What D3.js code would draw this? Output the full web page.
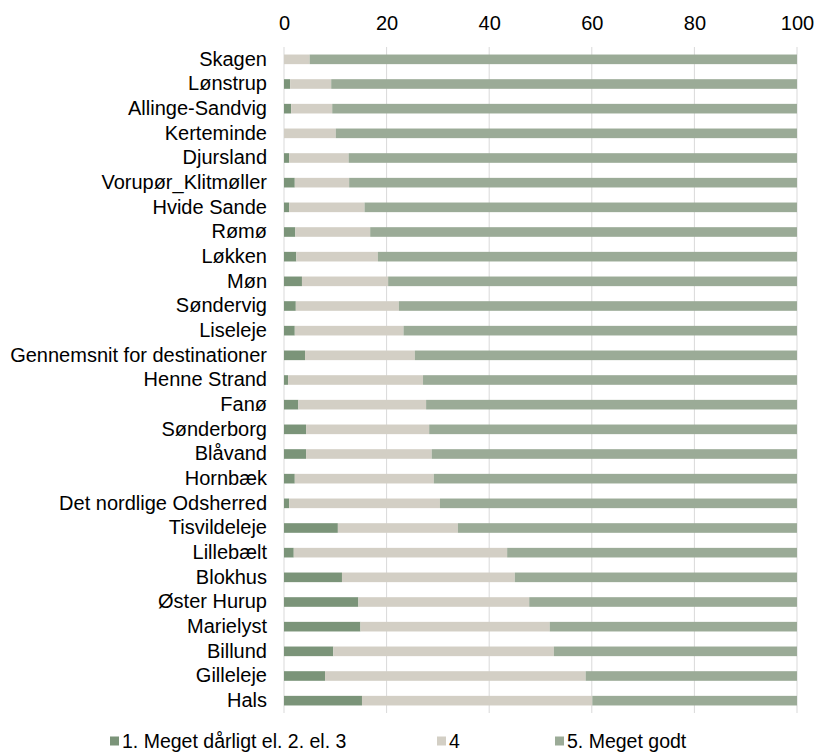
<!DOCTYPE html>
<html>
<head>
<meta charset="utf-8">
<script src="https://cdn.jsdelivr.net/npm/d3@7"></script>
<style>
  body { margin: 0; background: #fff; }
  svg text { font-family: "Liberation Sans", Arial, sans-serif; fill: #000; }
</style>
</head>
<body>
<svg id="chart" width="816" height="753"></svg>
<script>
// Destinations, top to bottom
const categories = [
  "Skagen", "Lønstrup", "Allinge-Sandvig", "Kerteminde", "Djursland",
  "Vorupør_Klitmøller", "Hvide Sande", "Rømø", "Løkken", "Møn",
  "Søndervig", "Liseleje", "Gennemsnit for destinationer", "Henne Strand", "Fanø",
  "Sønderborg", "Blåvand", "Hornbæk", "Det nordlige Odsherred", "Tisvildeleje",
  "Lillebælt", "Blokhus", "Øster Hurup", "Marielyst", "Billund",
  "Gilleleje", "Hals"
];

// Share of answers (%)
const bad = [
  0, 1.2, 1.4, 0, 1.0,
  2.1, 1.0, 2.2, 2.4, 3.5,
  2.3, 2.1, 4.1, 0.8, 2.8,
  4.3, 4.3, 2.1, 1.0, 10.5,
  1.9, 11.3, 14.5, 14.9, 9.6,
  8.0, 15.2
];
const four = [
  5.0, 8.0, 8.0, 10.1, 11.6,
  10.6, 14.7, 14.6, 15.9, 16.8,
  20.1, 21.2, 21.4, 26.3, 24.9,
  24.0, 24.5, 27.1, 29.4, 23.4,
  41.6, 33.7, 33.3, 36.9, 43.0,
  50.8, 44.9
];
const good = categories.map((c, i) => 100 - bad[i] - four[i]);

const seriesNames = ["1. Meget dårligt el. 2. el. 3", "4", "5. Meget godt"];
const seriesColors = ["#7b9479", "#d3cfc5", "#9bab97"];
const xTicks = [0, 20, 40, 60, 80, 100];

const rows = categories.map((c, i) => ({ name: c, s0: bad[i], s1: four[i], s2: good[i] }));

const fontSize = "20px";

const svg = d3.select("#chart");
const margin = { top: 47, left: 284, right: 19, bottom: 40 };
const width = 816 - margin.left - margin.right;
const height = 713 - margin.top;

const x = d3.scaleLinear().domain([0, 100]).range([0, width]);
const y = d3.scaleBand().domain(categories).range([0, height]).paddingInner(0.61).paddingOuter(0.305);

const g = svg.append("g").attr("transform", `translate(${margin.left},${margin.top})`);

// Gridlines
g.append("g")
  .selectAll("line")
  .data(xTicks)
  .join("line")
  .attr("x1", d => x(d)).attr("x2", d => x(d))
  .attr("y1", 0).attr("y2", height)
  .attr("stroke", "#d9d9d9")
  .attr("stroke-width", 1);

// Top axis labels
const xAxis = d3.axisTop(x).tickValues(xTicks).tickSize(0).tickPadding(17);
g.append("g")
  .call(xAxis)
  .call(a => a.select(".domain").remove())
  .selectAll("text")
  .style("font-size", fontSize)
  .attr("font-family", null);

// Stacked bars
const stack = d3.stack().keys(["s0", "s1", "s2"]);
const layers = stack(rows);

g.selectAll("g.layer")
  .data(layers)
  .join("g")
  .attr("class", "layer")
  .attr("fill", (d, i) => seriesColors[i])
  .selectAll("rect")
  .data(d => d)
  .join("rect")
  .attr("x", d => x(d[0]))
  .attr("width", d => x(d[1]) - x(d[0]))
  .attr("y", d => y(d.data.name))
  .attr("height", y.bandwidth());

// Category labels
const yAxis = d3.axisLeft(y).tickSize(0).tickPadding(17);
g.append("g")
  .call(yAxis)
  .call(a => a.select(".domain").remove())
  .selectAll("text")
  .style("font-size", fontSize)
  .attr("font-family", null);

// Legend
const legendX = [110, 437, 555];
const legend = svg.append("g").attr("transform", "translate(0,741)");
const items = legend.selectAll("g")
  .data(seriesNames)
  .join("g")
  .attr("transform", (d, i) => `translate(${legendX[i]},0)`);

items.append("rect")
  .attr("x", 0).attr("y", -4.5)
  .attr("width", 9).attr("height", 9)
  .attr("fill", (d, i) => seriesColors[i]);

items.append("text")
  .attr("x", 12)
  .attr("dy", "0.35em")
  .style("font-size", "19.5px")
  .text(d => d);
</script>
</body>
</html>
